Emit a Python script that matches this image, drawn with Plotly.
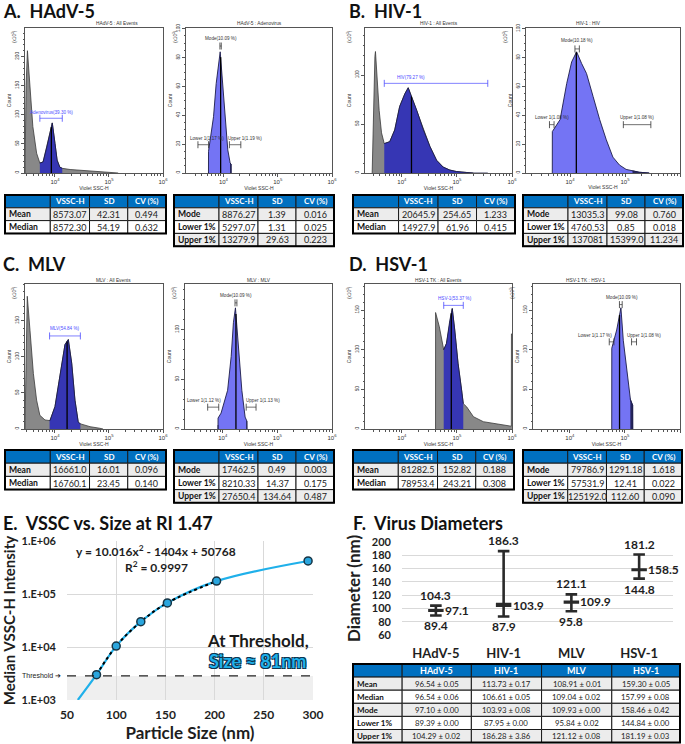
import numpy as np
import plotly.graph_objects as go

W, H = 685, 744
SANS = "Lato"              # stand-in for Calibri
SMALL = "Liberation Sans"  # cytometer software text

# ---------------- A-D histograms: log10(Violet SSC-H) vs count (x10^3) ----------------
hadv_all_e = [3.445, 3.465, 3.49, 3.54, 3.59, 3.66, 3.72, 3.78, 3.85, 3.91, 3.95, 4.0, 4.04, 4.09, 4.135, 4.28, 4.56, 4.83, 5.11, 5.17]
hadv_all_c = [0, 150, 210, 138, 80, 34, 17, 19, 45, 69, 86, 51, 22, 10, 8, 6, 4, 2, 1, 0]
hadv_gate = [3.72, 4.135]
hadv_sub_e = [3.724, 3.725, 3.817, 3.866, 3.94, 3.989, 4.031, 4.08, 4.123, 4.14, 4.141]
hadv_sub_c = [0, 15, 39, 62, 84, 62, 39, 16, 7, 6, 0]

hiv_all_e = [3.46, 3.485, 3.51, 3.52, 3.55, 3.587, 3.63, 3.68, 3.78, 3.87, 3.96, 4.055, 4.115, 4.175,
             4.27, 4.39, 4.51, 4.63, 4.75, 4.87, 4.99, 5.18, 5.30]
hiv_all_c = [0, 74, 119, 124, 91, 64, 41, 30, 32, 44, 68, 81, 87, 78, 64, 44, 27, 13, 6, 3, 1.5, 0.5, 0]
hiv_gate = [3.68, 5.56]
hiv_sub_e = [3.678, 3.679, 3.82, 3.94, 4.03, 4.12, 4.21, 4.30, 4.42, 4.54, 4.66, 4.78, 4.90, 5.02, 5.26, 5.44]
hiv_sub_c = [0, 28.7, 37, 62, 77, 84, 76, 69, 53, 37, 23, 11, 5.5, 2.5, 0.5, 0]

mlv_all_e = [3.444, 3.463, 3.487, 3.537, 3.60, 3.66, 3.72, 3.815, 3.907, 4.0, 4.093, 4.185, 4.247, 4.31,
             4.37, 4.43, 4.46, 4.65, 4.83, 4.89]
mlv_all_c = [0, 100, 184, 137, 77, 40, 19, 12.5, 11.6, 31, 77, 117, 124, 91, 40, 10, 7.4, 3.2, 1, 0]
mlv_gate = [3.90, 4.47]
mlv_sub_e = [3.914, 3.915, 3.97, 4.09, 4.155, 4.196, 4.233, 4.255, 4.30, 4.35, 4.41, 4.442, 4.443]
mlv_sub_c = [0, 11, 16, 39, 73, 107, 122, 107, 73, 39, 12, 8, 0]

hsv_all_e = [4.611, 4.612, 4.68, 4.72, 4.76, 4.81, 4.87, 4.915, 4.96, 5.02, 5.085, 5.115, 5.176, 5.30,
             5.48, 5.66, 5.84, 5.976, 5.988, 5.99, 6.0]
hsv_all_c = [0, 147, 129, 112, 100, 108, 137, 152, 125, 83, 49, 32, 28, 15.5, 9.2, 7.3, 5, 3.5, 3.5, 120, 120]
hsv_gate = [4.76, 5.115]
hsv_sub_e = [4.76, 4.761, 4.85, 4.927, 4.97, 5.04, 5.10, 5.14, 5.141]
hsv_sub_c = [0, 102, 125, 153, 112, 70, 37, 30, 0]

# ---------------- A-D statistics tables ----------------
all_rows = ["Mean", "Median"]
sub_rows = ["Mode", "Lower 1%", "Upper 1%"]
hadv_all_vssc, hadv_all_sd, hadv_all_cv = ["8573.07", "8572.30"], ["42.31", "54.19"], ["0.494", "0.632"]
hadv_sub_vssc, hadv_sub_sd, hadv_sub_cv = ["8876.27", "5297.07", "13279.9"], ["1.39", "1.31", "29.63"], ["0.016", "0.025", "0.223"]
hiv_all_vssc, hiv_all_sd, hiv_all_cv = ["20645.9", "14927.9"], ["254.65", "61.96"], ["1.233", "0.415"]
hiv_sub_vssc, hiv_sub_sd, hiv_sub_cv = ["13035.3", "4760.53", "137081"], ["99.08", "0.85", "15399.0"], ["0.760", "0.018", "11.234"]
mlv_all_vssc, mlv_all_sd, mlv_all_cv = ["16661.0", "16760.1"], ["16.01", "23.45"], ["0.096", "0.140"]
mlv_sub_vssc, mlv_sub_sd, mlv_sub_cv = ["17462.5", "8210.33", "27650.4"], ["0.49", "14.37", "134.64"], ["0.003", "0.175", "0.487"]
hsv_all_vssc, hsv_all_sd, hsv_all_cv = ["81282.5", "78953.4"], ["152.82", "243.21"], ["0.188", "0.308"]
hsv_sub_vssc, hsv_sub_sd, hsv_sub_cv = ["79786.9", "57531.9", "125192.0"], ["1291.18", "12.41", "112.60"], ["1.618", "0.022", "0.090"]

# ---------------- E. VSSC vs size ----------------
size_nm = [80, 100, 125, 152, 202, 295]
vssc_median = [3000, 10400, 30000, 68000, 175000, 420000]
tail_x, tail_y = [61], [1000]      # where the curve leaves the axis
threshold = 2850

# ---------------- F. diameters ----------------
viruses = ["HAdV-5", "HIV-1", "MLV", "HSV-1"]
d_mean = [96.54, 113.73, 108.91, 159.30]
d_mean_sd = [0.05, 0.17, 0.01, 0.05]
d_median = [96.54, 106.61, 109.04, 157.99]
d_median_sd = [0.06, 0.05, 0.02, 0.08]
d_mode = [97.10, 103.93, 109.93, 158.46]
d_mode_sd = [0.00, 0.08, 0.00, 0.42]
d_lower = [89.39, 87.95, 95.84, 144.84]
d_lower_sd = [0.00, 0.00, 0.02, 0.00]
d_upper = [104.29, 186.28, 121.12, 181.19]
d_upper_sd = [0.02, 3.86, 0.08, 0.03]
lbl_upper = ["104.3", "186.3", "121.1", "181.2"]
lbl_mode = ["97.1", "103.9", "109.9", "158.5"]
lbl_lower = ["89.4", "87.9", "95.8", "144.8"]

fig = go.Figure()
lay = {}
ann = []
shp = []


def xdom(a, b):
    return [max(0, a / W), min(1, b / W)]


def ydom(top, bot):
    return [max(0, 1 - bot / H), min(1, 1 - top / H)]


def segment(e, c, lo, hi):
    e = np.asarray(e, float)
    c = np.asarray(c, float)
    keep = (e > lo) & (e < hi)
    xs = np.concatenate([[lo], e[keep], [hi]])
    ys = np.concatenate([[np.interp(lo, e, c)], c[keep], [np.interp(hi, e, c)]])
    return 10 ** xs, ys


def axid(i):
    return "" if i == 1 else str(i)


def small(size=5, color="#333"):
    return dict(family=SMALL, size=size, color=color)


def bold_font(s, c="#1e1e1e"):
    return dict(family=SANS, size=s, color=c, weight="bold")


def hist(i, box, xr, ymax, yticks, ydt, e, c, title, kind, mark, lo=None, hi=None, gate=None, tags=()):
    a = axid(i)
    xa, ya = "x" + a, "y" + a
    l, t, r, b = box
    if kind == "all":
        fig.add_trace(go.Scatter(x=10 ** np.asarray(e), y=c, xaxis=xa, yaxis=ya, mode="lines", fill="tozeroy",
                                 fillcolor="#888888", line=dict(color="#3a3a3a", width=0.8)))
        gx, gy = segment(e, c, *gate)
        fig.add_trace(go.Scatter(x=gx, y=gy, xaxis=xa, yaxis=ya, mode="lines", fill="tozeroy",
                                 fillcolor="#3636b4", line=dict(color="#161640", width=0.8)))
    else:
        fig.add_trace(go.Scatter(x=10 ** np.asarray(e), y=c, xaxis=xa, yaxis=ya, mode="lines", fill="tozeroy",
                                 fillcolor="#7474f4", line=dict(color="#1c1c48", width=0.9)))
        for a0, a1 in ((e[0], np.log10(lo)), (np.log10(hi), e[-1])):
            if a1 > a0:
                sx, sy = segment(e, c, a0, a1)
                fig.add_trace(go.Scatter(x=sx, y=sy, xaxis=xa, yaxis=ya, mode="lines", fill="tozeroy",
                                         fillcolor="#25255c", line=dict(color="#1c1c48", width=0.8)))
    m = np.log10(mark)
    fig.add_trace(go.Scatter(x=[10 ** m, 10 ** m], y=[0, np.interp(m, e, c)], xaxis=xa, yaxis=ya, mode="lines",
                             line=dict(color="black", width=1.3)))
    for t0, t1, yb, text, tx, ty, col in tags:
        fig.add_trace(go.Scatter(x=[10 ** t0, 10 ** t1], y=[yb, yb], xaxis=xa, yaxis=ya, mode="lines+markers",
                                 line=dict(color=col, width=0.7),
                                 marker=dict(symbol="line-ns", size=5, line=dict(color=col, width=0.8))))
        ann.append(dict(x=tx, y=ty, xref=xa, yref=ya, text=text, showarrow=False, font=small(4.6, col)))
    ax_common = dict(showgrid=False, zeroline=False, showline=True, mirror=True, linecolor="#555", linewidth=0.8,
                     ticks="outside", ticklen=3, tickwidth=0.6, tickcolor="#555", tickfont=small(4.8),
                     automargin=False)
    lay["xaxis" + a] = dict(ax_common, domain=xdom(l, r), anchor=ya, type="log", range=list(xr), dtick=1,
                            exponentformat="power",
                            minor=dict(ticks="outside", ticklen=1.6, tickwidth=0.5, tickcolor="#555", dtick="D1"),
                            title=dict(text="Violet SSC-H", font=small(5), standoff=1))
    lay["yaxis" + a] = dict(ax_common, domain=ydom(t, b), anchor=xa, range=[0, ymax], tickvals=yticks, tickangle=-90,
                            minor=dict(ticks="outside", ticklen=1.6, tickwidth=0.5, tickcolor="#555",
                                       tickmode="linear", tick0=0, dtick=ydt),
                            title=dict(text="Count", font=small(5), standoff=3))
    ann.append(dict(x=(l + r) / 2 / W, y=1 - (t - 4) / H, xref="paper", yref="paper", yanchor="middle",
                    text=title, showarrow=False, font=small(4.8)))
    ann.append(dict(x=(l - 16) / W, y=1 - (t + 9) / H, xref="paper", yref="paper", yanchor="middle",
                    text="(x10<sup>3</sup>)", textangle=-90, showarrow=False, font=small(4.6)))


def table(box, head, cols, widths, size, row_h, fills, head_size, label_size):
    # grid of cells drawn as paper shapes, text as annotations
    l, t, r = box
    edges = l + np.concatenate([[0], np.cumsum(widths)]) * (r - l) / sum(widths)
    rows = [head] + [list(rw) for rw in zip(*cols)]
    for ri, row in enumerate(rows):
        y0, y1 = t + ri * row_h, t + (ri + 1) * row_h
        fill = "#0070c0" if ri == 0 else fills[(ri - 1) % len(fills)]
        for ci, txt in enumerate(row):
            x0, x1 = edges[ci], edges[ci + 1]
            shp.append(dict(type="rect", xref="paper", yref="paper", x0=x0 / W, x1=x1 / W,
                            y0=1 - y1 / H, y1=1 - y0 / H, fillcolor=fill,
                            line=dict(color="#1a1a1a", width=1), layer="above"))
            if not txt:
                continue
            if ri == 0:
                font = bold_font(head_size, "white")
            elif ci == 0:
                font = bold_font(label_size, "#111")
            else:
                font = dict(family=SANS, size=size, color="#222")
            left = ri > 0 and ci == 0
            ann.append(dict(x=(x0 + 2) / W if left else (x0 + x1) / 2 / W, y=1 - (y0 + y1) / 2 / H,
                            xref="paper", yref="paper", xanchor="left" if left else "center", yanchor="middle",
                            text=txt, showarrow=False, font=font))
    b = t + row_h * len(rows)
    shp.append(dict(type="rect", xref="paper", yref="paper", x0=l / W, x1=r / W, y0=1 - b / H, y1=1 - t / H,
                    line=dict(color="black", width=2), layer="above"))


GATE = "#4b4bff"
DK = "#333333"
hist(1, (25, 28, 163, 173), (3.445, 6), 249, [0, 50, 100, 150, 200], 10, hadv_all_e, hadv_all_c,
     "HAdV-5 : All Events", "all", float(hadv_all_vssc[1]), gate=hadv_gate,
     tags=[(hadv_gate[0], hadv_gate[1], 94, "Adenovirus(39.30 %)", 3.93, 104, GATE)])
hist(2, (186, 28, 332, 173), (3.31, 6), 100.5, [0, 20, 40, 60, 80, 100], 5, hadv_sub_e, hadv_sub_c,
     "HAdV-5 : Adenovirus", "sub", float(hadv_sub_vssc[0]), float(hadv_sub_vssc[1]), float(hadv_sub_vssc[2]),
     tags=[(3.935, 3.96, 88, "Mode(10.09 %)", 3.95, 93, DK),
           (3.53, 3.725, 19.6, "Lower 1(1.17 %)", 3.69, 24, DK),
           (4.11, 4.32, 19.6, "Upper 1(1.19 %)", 4.40, 24, DK)])
hist(3, (365, 28, 512, 173), (3.33, 6), 148, [0, 50, 100], 10, hiv_all_e, hiv_all_c,
     "HIV-1 : All Events", "all", float(hiv_all_vssc[1]), gate=hiv_gate,
     tags=[(hiv_gate[0], hiv_gate[1], 91.5, "HIV(79.27 %)", 4.16, 97, GATE)])
hist(4, (526, 28, 680, 173), (3.2, 6), 100.5, [0, 20, 40, 60, 80, 100], 5, hiv_sub_e, hiv_sub_c,
     "HIV-1 : HIV", "sub", float(hiv_sub_vssc[0]), float(hiv_sub_vssc[1]), float(hiv_sub_vssc[2]),
     tags=[(4.09, 4.17, 86, "Mode(10.18 %)", 4.13, 92, DK),
           (3.627, 3.71, 33.5, "Lower 1(1.08 %)", 3.68, 38.5, DK),
           (4.97, 5.47, 33.5, "Upper 1(1.08 %)", 5.21, 38.5, DK)])
hist(5, (25, 284, 163, 429), (3.445, 6), 201, [0, 50, 100, 150], 10, mlv_all_e, mlv_all_c,
     "MLV : All Events", "all", float(mlv_all_vssc[1]), gate=mlv_gate,
     tags=[(mlv_gate[0], mlv_gate[1], 129, "MLV(54.84 %)", 4.185, 139, GATE)])
hist(6, (185, 284, 332, 429), (3.31, 6), 146, [0, 50, 100], 10, mlv_sub_e, mlv_sub_c,
     "MLV : MLV", "sub", float(mlv_sub_vssc[0]), float(mlv_sub_vssc[1]), float(mlv_sub_vssc[2]),
     tags=[(4.225, 4.26, 127, "Mode(10.09 %)", 4.25, 134, DK),
           (3.725, 3.927, 22, "Lower 1(1.12 %)", 3.664, 28.6, DK),
           (4.43, 4.61, 22, "Upper 1(1.13 %)", 4.74, 28.6, DK)])
hist(7, (365, 284, 512, 429), (3.33, 6), 183, [0, 50, 100, 150], 10, hsv_all_e, hsv_all_c,
     "HSV-1 TK : All Events", "all", float(hsv_all_vssc[1]), gate=hsv_gate,
     tags=[(hsv_gate[0], hsv_gate[1], 156, "HSV-1(53.37 %)", 4.96, 165, GATE)])
hist(8, (533, 284, 680, 429), (3.33, 6), 183, [0, 50, 100, 150], 10, hsv_sub_e, hsv_sub_c,
     "HSV-1 TK : HSV-1", "sub", float(hsv_sub_vssc[0]), float(hsv_sub_vssc[1]), float(hsv_sub_vssc[2]),
     tags=[(4.90, 4.95, 157, "Mode(10.09 %)", 4.94, 166, DK),
           (4.715, 4.80, 110, "Lower 1(1.17 %)", 4.455, 118.5, DK),
           (5.12, 5.21, 110, "Upper 1(1.08 %)", 5.34, 118.5, DK)])

HEAD = ["", "VSSC-H", "SD", "CV (%)"]
FILLS = ["#ececec", "white"]
CW = [45, 39, 38, 38]
for box, rows_, cols_, rh in [
        ((5, 195, 166), all_rows, (hadv_all_vssc, hadv_all_sd, hadv_all_cv), 12.8),
        ((174, 195, 334), sub_rows, (hadv_sub_vssc, hadv_sub_sd, hadv_sub_cv), 12.8),
        ((353, 195, 515), all_rows, (hiv_all_vssc, hiv_all_sd, hiv_all_cv), 12.8),
        ((523, 195, 683), sub_rows, (hiv_sub_vssc, hiv_sub_sd, hiv_sub_cv), 12.8),
        ((5, 450, 166), all_rows, (mlv_all_vssc, mlv_all_sd, mlv_all_cv), 13.2),
        ((174, 450, 334), sub_rows, (mlv_sub_vssc, mlv_sub_sd, mlv_sub_cv), 13.2),
        ((353, 450, 514), all_rows, (hsv_all_vssc, hsv_all_sd, hsv_all_cv), 13.2),
        ((523, 450, 682), sub_rows, (hsv_sub_vssc, hsv_sub_sd, hsv_sub_cv), 13.2)]:
    table(box, HEAD, [rows_, *cols_], CW, 9, rh, FILLS, 8, 8.6)

# ---------------- E ----------------
BLUE = "#1fb0ea"
fig.add_trace(go.Scatter(x=tail_x + size_nm, y=tail_y + vssc_median, xaxis="x9", yaxis="y9", mode="lines",
                         line=dict(color=BLUE, width=2.2, shape="spline")))
fig.add_trace(go.Scatter(x=size_nm[:5], y=vssc_median[:5], xaxis="x9", yaxis="y9", mode="lines",
                         line=dict(color="black", width=2, dash="dot", shape="spline")))
fig.add_trace(go.Scatter(x=size_nm, y=vssc_median, xaxis="x9", yaxis="y9", mode="markers",
                         marker=dict(size=8, color="#2aa6de", line=dict(color="#173545", width=1.5))))
lay["xaxis9"] = dict(domain=xdom(67, 313), anchor="y9", range=[50, 300], tick0=50, dtick=50, showgrid=True,
                     gridcolor="#d9d9d9", zeroline=False, showline=False, tickfont=bold_font(12),
                     ticklabelstandoff=6, automargin=False,
                     title=dict(text="Particle Size (nm)", font=bold_font(17), standoff=6))
lay["yaxis9"] = dict(domain=ydom(541, 700), anchor="x9", type="log", range=[3, 6],
                     tickvals=[1e3, 1e4, 1e5, 1e6], ticktext=["1.E+03", "1.E+04", "1.E+05", "1.E+06"],
                     showgrid=True, gridcolor="#d9d9d9", zeroline=False, tickfont=bold_font(11),
                     ticklabelstandoff=10, automargin=False,
                     title=dict(text="Median VSSC-H Intensity", font=bold_font(15), standoff=5))
thr_frac = (np.log10(threshold) - 3) / 3
shp.append(dict(type="rect", xref="x9 domain", yref="y9 domain", x0=0, x1=1, y0=0, y1=thr_frac,
                fillcolor="#efefef", line=dict(width=0), layer="below"))
shp.append(dict(type="line", xref="x9 domain", yref="y9 domain", x0=0, x1=1, y0=thr_frac, y1=thr_frac,
                line=dict(color="#222", width=1.3, dash="dash")))
ann += [
    dict(x=63 / W, y=np.log10(threshold), xref="paper", yref="y9", xanchor="right", text="Threshold \u2794",
         showarrow=False, font=dict(family=SMALL, size=7, color="#222")),
    dict(x=140, y=np.log10(640000), xref="x9", yref="y9", text="y = 10.016x<sup>2</sup> - 1404x + 50768",
         showarrow=False, font=bold_font(12)),
    dict(x=141, y=np.log10(330000), xref="x9", yref="y9", text="R<sup>2</sup> = 0.9997",
         showarrow=False, font=bold_font(12)),
    dict(x=244, y=np.log10(13000), xref="x9", yref="y9", text="At Threshold,", showarrow=False,
         font=bold_font(17, "#1a1a1a")),
    dict(x=244, y=np.log10(5400), xref="x9", yref="y9", text="Size \u2248 81nm", showarrow=False,
         font=dict(family=SANS, size=18, color=BLUE, weight="bold",
                   shadow="1px 1px 0 #0c3550, -1px -1px 0 #0c3550, 1px -1px 0 #0c3550, -1px 1px 0 #0c3550")),
]

# ---------------- F ----------------
q1 = np.minimum(d_median, d_mode)
q3 = np.maximum(d_median, d_mode)
fig.add_trace(go.Box(x=viruses, q1=q1, median=d_mode, q3=q3, lowerfence=d_lower, upperfence=d_upper,
                     xaxis="x10", yaxis="y10", fillcolor="#9dc3e6", line=dict(color="#2a2a2a", width=2.6),
                     width=0.19, whiskerwidth=0.9, boxpoints=False))
for v, lo, mo, up, tl, tm, tu in zip(viruses, d_lower, d_mode, d_upper, lbl_lower, lbl_mode, lbl_upper):
    ann.append(dict(x=v, y=up, xref="x10", yref="y10", yanchor="bottom", yshift=1, text=tu,
                    showarrow=False, font=bold_font(12)))
    ann.append(dict(x=v, y=lo, xref="x10", yref="y10", yanchor="top", yshift=-1, text=tl,
                    showarrow=False, font=bold_font(12)))
    ann.append(dict(x=v, y=mo, xref="x10", yref="y10", xanchor="left", xshift=7, text=tm,
                    showarrow=False, font=bold_font(12)))
lay["xaxis10"] = dict(domain=xdom(402, 673), anchor="y10", range=[-0.5, 3.5], showgrid=False, zeroline=False,
                      showline=False, tickfont=bold_font(13), ticklabelstandoff=9, automargin=False)
lay["yaxis10"] = dict(domain=ydom(542, 635), anchor="x10", range=[60, 200], dtick=20, showgrid=True,
                      gridcolor="#d9d9d9", zeroline=False, tickfont=bold_font(11), ticklabelstandoff=10,
                      automargin=False, title=dict(text="Diameter (nm)", font=bold_font(17), standoff=6))


def pm(vals, sds):
    return [f"{v:.2f} \u00b1 {s:.2f}" for v, s in zip(vals, sds)]


f_stats = [pm(d_mean, d_mean_sd), pm(d_median, d_median_sd), pm(d_mode, d_mode_sd),
           pm(d_lower, d_lower_sd), pm(d_upper, d_upper_sd)]
f_cols = [["Mean", "Median", "Mode", "Lower 1%", "Upper 1%"], *[list(col) for col in zip(*f_stats)]]
table((353, 664, 680), [""] + viruses, f_cols, [49, 69, 70, 70, 68], 7.8, 13.1, FILLS, 9, 8)

# ---------------- panel titles ----------------
for txt, x, y in [("A.\u00a0 HAdV-5", 1, 11), ("B.\u00a0 HIV-1", 347, 11), ("C.\u00a0 MLV", 1, 264),
                  ("D.\u00a0 HSV-1", 347, 264), ("E.\u00a0 VSSC vs. Size at RI 1.47", 1, 523),
                  ("F.\u00a0 Virus Diameters", 351, 523)]:
    ann.append(dict(x=x / W, y=1 - y / H, xref="paper", yref="paper", xanchor="left", yanchor="middle",
                    text=txt, showarrow=False, font=bold_font(18, "#111")))

fig.update_layout(width=W, height=H, margin=dict(l=0, r=0, t=0, b=0, autoexpand=False), showlegend=False,
                  paper_bgcolor="white", plot_bgcolor="white", annotations=ann, shapes=shp, **lay)
fig.write_html("out.html", config={"displayModeBar": False},
               post_script="document.body.style.margin='0px';")
